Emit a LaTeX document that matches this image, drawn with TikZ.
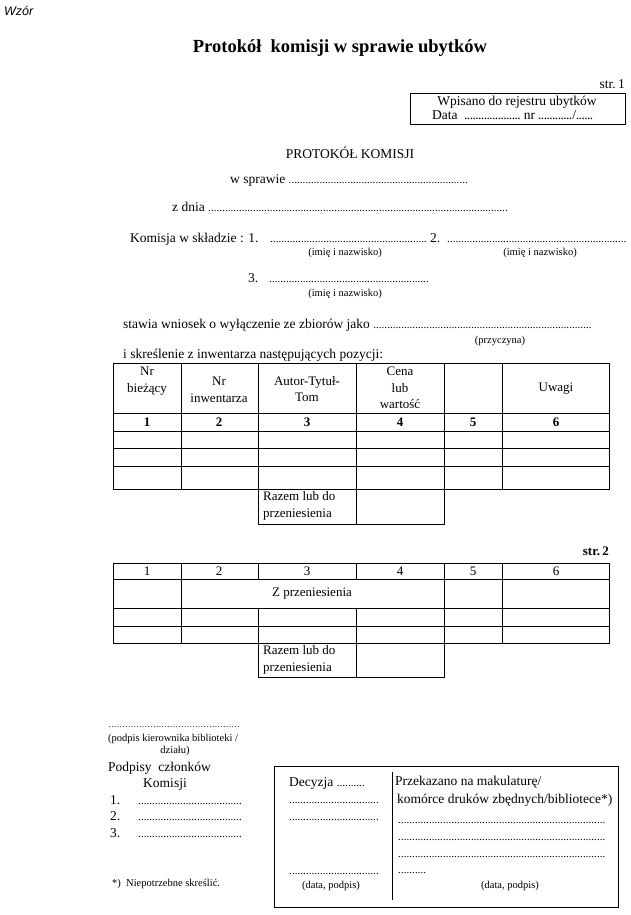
\documentclass[tikz,border=0pt]{standalone}
\usepackage{fontspec}
\setmainfont{Liberation Serif}
\newfontfamily\wzorfont{Liberation Sans}
\usetikzlibrary{positioning}

\newcommand\kropki[1]{\hbox to #1{\leaders\hbox to 2.8pt{\hss.\hss}\hfill}}

\begin{document}
\begin{tikzpicture}[x=1pt,y=-1pt,
  txt/.style={inner sep=0pt,anchor=base west,font=\fontsize{13.5}{16}\selectfont},
  small/.style={inner sep=0pt,anchor=base,font=\fontsize{10.5}{12}\selectfont},
  head/.style={inner sep=0pt,align=center,font=\fontsize{13}{16.5}\selectfont},
  dots/.style={inner sep=0pt,anchor=base west,font=\fontsize{11}{12}\selectfont},
  grid line/.style={line width=0.85pt}]

  \useasboundingbox (0,0) rectangle (630,915);

  % naglowek
  \node[txt,font=\wzorfont\itshape\fontsize{12.5}{14}\selectfont] (wzor) at (4,16) {Wzór};
  \node[txt,anchor=base,font=\bfseries\fontsize{18.5}{22}\selectfont] (tytul) at (340,53) {Protokół~ komisji w sprawie ubytków};
  \node[txt,anchor=base east] (str1) at (625,89) {str.\,1};

  \draw[line width=0.7pt] (410,93) rectangle (625,124);
  \node[txt,anchor=base] (wpis) at (517,106) {Wpisano do rejestru ubytków};
  \node[txt] (data) at (432,120) {Data~ \kropki{56pt}~nr~\kropki{34pt}/\kropki{17pt}};

  \node[txt,anchor=base] (prot) at (350,158) {PROTOKÓŁ KOMISJI};
  \node[txt] (sprawa) at (230,183) {w sprawie};
  \node[dots,right=3pt of sprawa.base east,anchor=base west] (sprawa dots) {\kropki{182pt}};
  \node[txt] (dnia) at (172,211) {z dnia};
  \node[dots,right=3pt of dnia.base east,anchor=base west] (dnia dots) {\kropki{302pt}};

  \node[txt] (sklad) at (130,242) {Komisja w składzie : 1.};
  \node[dots] (osoba1) at (270,242) {\kropki{157pt}};
  \node[txt] (nr2) at (430,242) {2.};
  \node[dots] (osoba2) at (447,242) {\kropki{181pt}};
  \node[small] (imie1) at (345,255) {(imię i nazwisko)};
  \node[small] (imie2) at (540,255) {(imię i nazwisko)};
  \node[txt] (nr3) at (248,282) {3.};
  \node[dots] (osoba3) at (269,282) {\kropki{161pt}};
  \node[small] (imie3) at (345,296) {(imię i nazwisko)};

  \node[txt] (wniosek) at (123,328) {stawia wniosek o wyłączenie ze zbiorów jako};
  \node[dots,right=3pt of wniosek.base east,anchor=base west] (wniosek dots) {\kropki{220pt}};
  \node[small] (przyczyna) at (500,343) {(przyczyna)};
  \node[txt] (skreslenie) at (123,358) {i skreślenie z inwentarza następujących pozycji:};

  % tabela str. 1
  \draw[grid line] (113,363) rectangle (609,489);
  \foreach \y in {413,431,448,466}
    \draw[grid line] (113,\y) -- (609,\y);
  \foreach \x in {181,258,356,444,502}
    \draw[grid line] (\x,363) -- (\x,489);
  \draw[grid line] (258,489) rectangle (444,524);
  \draw[grid line] (356,489) -- (356,524);

  \node[head] (k1) at (147,381) {Nr\\bieżący};
  \node[head] (k2) at (219,390) {Nr\\inwentarza};
  \node[head] (k3) at (307,389) {Autor-Tytuł-\\Tom};
  \node[head] (k4) at (400,388) {Cena\\lub\\wartość};
  \node[head] (k6) at (556,389) {Uwagi};
  \node[head,font=\bfseries\fontsize{13}{16}\selectfont] (n1) at (147,422) {1};
  \node[head,font=\bfseries\fontsize{13}{16}\selectfont] (n2) at (219,422) {2};
  \node[head,font=\bfseries\fontsize{13}{16}\selectfont] (n3) at (307,422) {3};
  \node[head,font=\bfseries\fontsize{13}{16}\selectfont] (n4) at (400,422) {4};
  \node[head,font=\bfseries\fontsize{13}{16}\selectfont] (n5) at (473,422) {5};
  \node[head,font=\bfseries\fontsize{13}{16}\selectfont] (n6) at (556,422) {6};
  \node[head,anchor=west,align=left] (razem1) at (263,506) {Razem lub do\\przeniesienia};

  % tabela str. 2
  \node[txt,anchor=base east,font=\bfseries\fontsize{13}{16}\selectfont] (str2) at (609,555) {str.\,2};
  \draw[grid line] (113,563) rectangle (609,643);
  \foreach \y in {579,608,626}
    \draw[grid line] (113,\y) -- (609,\y);
  \foreach \x in {181,444,502}
    \draw[grid line] (\x,563) -- (\x,643);
  \foreach \x in {258,356} {
    \draw[grid line] (\x,563) -- (\x,579);
    \draw[grid line] (\x,608) -- (\x,643);
  }
  \draw[grid line] (258,643) rectangle (444,677);
  \draw[grid line] (356,643) -- (356,677);

  \node[head] (m1) at (147,571) {1};
  \node[head] (m2) at (219,571) {2};
  \node[head] (m3) at (307,571) {3};
  \node[head] (m4) at (400,571) {4};
  \node[head] (m5) at (473,571) {5};
  \node[head] (m6) at (556,571) {6};
  \node[head] (przen) at (312,594) {Z przeniesienia};
  \node[head,anchor=west,align=left] (razem2) at (263,660) {Razem lub do\\przeniesienia};

  % podpisy
  \node[dots,font=\fontsize{9}{10}\selectfont] (kier dots) at (108,727) {\kropki{132pt}};
  \node[small,anchor=base west] (kier) at (108,741) {(podpis kierownika biblioteki /};
  \node[small] (dzial) at (175,753) {działu)};
  \node[txt] (podpisy) at (108,771) {Podpisy~ członków};
  \node[txt,anchor=base] (komisji) at (165,787) {Komisji};
  \node[txt] (p1) at (110,804) {1.};
  \node[dots] (p1 dots) at (138,804) {\kropki{105pt}};
  \node[txt] (p2) at (110,820) {2.};
  \node[dots] (p2 dots) at (138,820) {\kropki{105pt}};
  \node[txt] (p3) at (110,837) {3.};
  \node[dots] (p3 dots) at (138,837) {\kropki{105pt}};
  \node[small,anchor=base west] (uwaga) at (112,886) {*)~ Niepotrzebne skreślić.};

  % decyzja
  \draw[line width=0.8pt] (274,766) rectangle (618,907);
  \draw[line width=0.8pt] (392,772) -- (392,900);
  \node[txt] (decyzja) at (289,786) {Decyzja};
  \node[dots,right=3pt of decyzja.base east,anchor=base west] (decyzja dots) {\kropki{30pt}};
  \node[dots] (d1) at (289,803) {\kropki{91pt}};
  \node[dots] (d2) at (289,820) {\kropki{91pt}};
  \node[dots] (d3) at (289,874) {\kropki{91pt}};
  \node[small] (data1) at (331,888) {(data, podpis)};

  \node[txt] (przek) at (395,785) {Przekazano na makulaturę/};
  \node[txt] (komorce) at (397,803) {komórce druków zbędnych/bibliotece*)};
  \node[dots] (e1) at (398,823) {\kropki{210pt}};
  \node[dots] (e2) at (398,840) {\kropki{210pt}};
  \node[dots] (e3) at (398,857) {\kropki{210pt}};
  \node[dots] (e4) at (398,873) {\kropki{30pt}};
  \node[small] (data2) at (510,888) {(data, podpis)};
\end{tikzpicture}
\end{document}
